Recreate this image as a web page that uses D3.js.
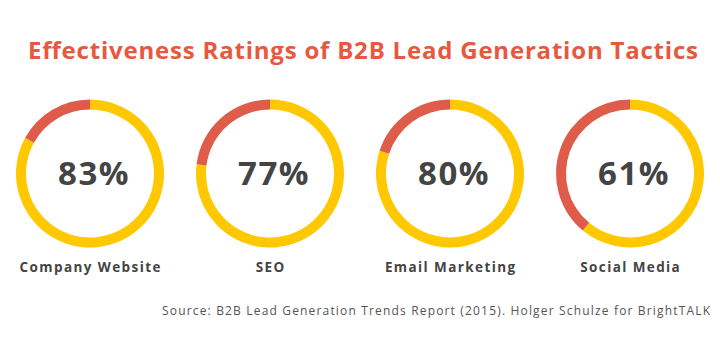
<!DOCTYPE html>
<html>
<head>
<meta charset="utf-8">
<script src="https://cdn.jsdelivr.net/npm/d3@7"></script>
<style>
  body { margin: 0; background: #fff; }
  svg { display: block; font-family: "Open Sans", sans-serif; }
</style>
</head>
<body>
<svg id="chart" width="720" height="350"></svg>
<script>
const title = "Effectiveness Ratings of B2B Lead Generation Tactics";
const categories = ["Company Website", "SEO", "Email Marketing", "Social Media"];
const values = [83, 77, 80, 61];
const source = "Source: B2B Lead Generation Trends Report (2015). Holger Schulze for BrightTALK";

const svg = d3.select("#chart");

const yellow = "#FFC800", red = "#E05C4A", textCol = "#444444";

svg.append("text")
  .attr("x", 28).attr("y", 59)
  .attr("textLength", 670).attr("lengthAdjust", "spacing")
  .attr("font-size", 24).attr("font-weight", 700)
  .attr("fill", "#E8583F")
  .text(title);

const x = d3.scalePoint().domain(categories).range([90, 630]);
const cy = 173.5;
const outerR = 74, innerR = 64;
const arc = d3.arc().innerRadius(innerR).outerRadius(outerR);
const pct = d3.scaleLinear().domain([0, 100]).range([0, 2 * Math.PI]);

categories.forEach((c, i) => {
  const g = svg.append("g").attr("transform", `translate(${x(c)},${cy})`);
  const v = values[i];
  g.append("path")
    .attr("d", arc({startAngle: 0, endAngle: pct(v)}))
    .attr("fill", yellow);
  g.append("path")
    .attr("d", arc({startAngle: pct(v), endAngle: pct(100)}))
    .attr("fill", red);
  g.append("text")
    .attr("text-anchor", "middle")
    .attr("x", 4)
    .attr("y", 11.5)
    .attr("font-size", 33).attr("font-weight", 700)
    .attr("letter-spacing", 1.5)
    .attr("fill", textCol)
    .text(v + "%");
  svg.append("text")
    .attr("x", x(c) + 0.7).attr("y", 272)
    .attr("text-anchor", "middle")
    .attr("font-size", 13.5).attr("font-weight", 700)
    .attr("letter-spacing", 1.4)
    .attr("fill", textCol)
    .text(c);
});

svg.append("text")
  .attr("x", 162).attr("y", 315)
  .attr("textLength", 548).attr("lengthAdjust", "spacing")
  .attr("font-size", 12)
  .attr("fill", "#555555")
  .text(source);
</script>
</body>
</html>
